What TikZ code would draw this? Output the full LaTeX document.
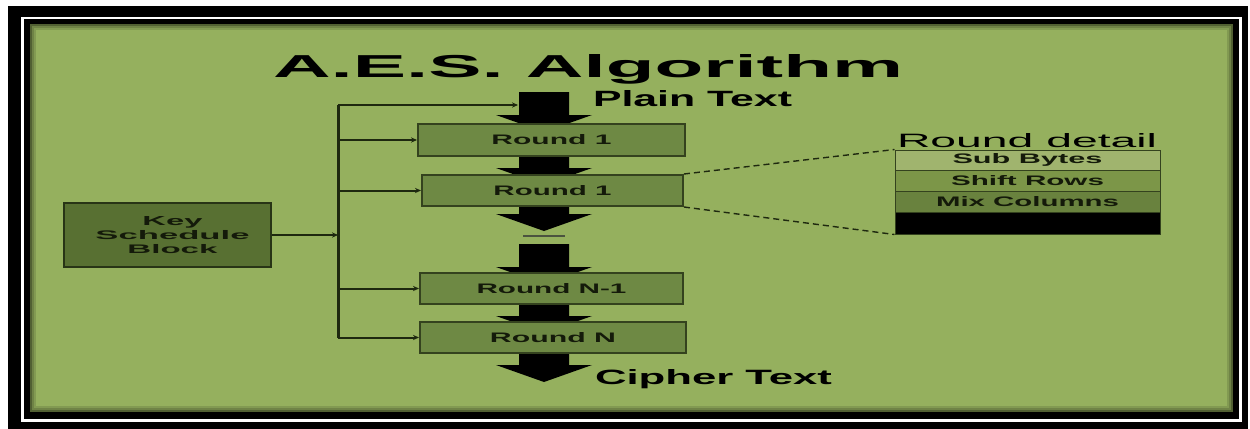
\documentclass[tikz,border=0pt]{standalone}
\usepackage{fontspec}
\setmainfont{Liberation Sans}
\usetikzlibrary{arrows.meta,backgrounds}
\definecolor{bg}{RGB}{149,176,94}
\definecolor{roundfill}{RGB}{110,137,68}
\definecolor{roundline}{RGB}{52,66,30}
\definecolor{keyfill}{RGB}{88,112,50}
\definecolor{keyline}{RGB}{40,52,22}
\definecolor{sbfill}{RGB}{160,180,110}
\definecolor{srfill}{RGB}{124,150,72}
\definecolor{mcfill}{RGB}{105,130,62}
\definecolor{connc}{RGB}{30,40,15}
\definecolor{textdark}{RGB}{20,26,10}
\newcommand\rtxt[2]{\resizebox{#1}{5pt}{\bfseries #2}}
\newcommand\ktxt[2]{\resizebox{#1}{4.5pt}{\bfseries #2}}
\newcommand\bigarr[2]{\fill[black] (519,#1) -- (569,#1) -- (569,#2) -- (592,#2) -- (544,#2+17) -- (496,#2) -- (519,#2) -- cycle;}
\begin{document}
\begin{tikzpicture}[x=0.5pt,y=-0.5pt,
  rbox/.style={draw=roundline, line width=1pt, fill=roundfill, inner sep=0pt, text=textdark},
  kbox/.style={draw=keyline, line width=1.2pt, fill=keyfill, inner sep=0pt, text=textdark},
  band/.style={draw=roundline, line width=0.5pt, minimum width=132.5pt, inner sep=0pt, text=textdark},
  lbl/.style={inner sep=0pt, outer sep=0pt, anchor=base west, text=black},
  conn/.style={draw=connc, line width=1pt},
  busline/.style={draw=connc, line width=1.5pt},
  tip/.style={-{Stealth[length=3pt,width=2.6pt]}},
  dashconn/.style={draw=connc, line width=0.7pt, dash pattern=on 3pt off 2pt}]
\useasboundingbox (0,0) rectangle (1250,429);

% boxes
\node[rbox, minimum width=133.5pt, minimum height=16pt] (r1) at (551.5,140) {\rtxt{60pt}{Round 1}};
\node[rbox, minimum width=130.5pt, minimum height=15.5pt] (r2) at (552.5,190.5) {\rtxt{59pt}{Round 1}};
\node[rbox, minimum width=131.5pt, minimum height=15.5pt] (r3) at (551.5,288.5) {\rtxt{75pt}{Round N-1}};
\node[rbox, minimum width=133pt, minimum height=15.5pt] (r4) at (553,337.5) {\rtxt{63pt}{Round N}};

\node[kbox, minimum width=103.5pt, minimum height=32pt, align=center, font=\fontsize{6}{7}\selectfont] (key) at (167.5,235)
  {\hspace*{5pt}\ktxt{30pt}{Key}\\\hspace*{5pt}\ktxt{77pt}{Schedule}\\\hspace*{5pt}\ktxt{45pt}{Block}};

% round detail
\node[band, fill=sbfill, minimum height=10pt] (sb) at (1027.5,160) {\rtxt{75pt}{Sub Bytes}};
\node[band, fill=srfill, minimum height=10.5pt] (sr) at (1027.5,180.5) {\rtxt{76.5pt}{Shift Rows}};
\node[band, fill=mcfill, minimum height=10.5pt] (mc) at (1027.5,201.5) {\rtxt{91.5pt}{Mix Columns}};
\node[band, fill=black, minimum height=11pt] (bk) at (1027.5,223) {};

% labels
\node[lbl] (title) at (273,77) {\resizebox{315pt}{11.5pt}{\bfseries A.E.S. Algorithm}};
\node[lbl] (plain) at (593,106) {\resizebox{99.5pt}{8pt}{\bfseries Plain Text}};
\node[lbl] (cipher) at (595,384) {\resizebox{118.5pt}{7.5pt}{\bfseries Cipher Text}};
\node[lbl] (detail) at (897,147) {\resizebox{130pt}{7pt}{Round detail}};

% key connectors
\coordinate (bt) at (338,105);
\coordinate (ptin) at (518,105);
\draw[busline] (bt) -- (bt |- r4.west);
\draw[conn, tip] (bt) -- (ptin);
\draw[conn, tip] (bt |- r1.west) -- (r1.west);
\draw[conn, tip] (bt |- r2.west) -- (r2.west);
\draw[conn, tip] (bt |- r3.west) -- (r3.west);
\draw[conn, tip] (bt |- r4.west) -- (r4.west);
\draw[conn, tip] (key.east) -- (key.east -| bt);

% zoom lines
\draw[dashconn] (r2.north east) -- (sb.north west);
\draw[dashconn] (r2.south east) -- (bk.south west);

\begin{scope}[on background layer]
\fill[white] (0,0) rectangle (1250,429);
\fill[black] (8,6) rectangle (1248,429);
\draw[white, line width=1.2pt] (22.5,18) rectangle (1240.5,420.5);
\fill[bg] (30,24) rectangle (1233,412);
\draw[black, opacity=0.45, line width=1pt] (31,25) rectangle (1232,411);
\draw[black, opacity=0.25, line width=1pt] (33,27) rectangle (1230,409);
\draw[black, opacity=0.12, line width=1pt] (35,29) rectangle (1228,407);
% data flow arrows
\bigarr{92}{115}
\bigarr{150}{168}
\bigarr{200}{214}
\bigarr{244}{267}
\bigarr{300}{316}
\bigarr{348}{365}
\coordinate (gapl) at (523,236);
\coordinate (gapr) at (565,236);
\draw[connc!80, line width=1pt] (gapl) -- (gapr);
\end{scope}
\end{tikzpicture}
\end{document}
